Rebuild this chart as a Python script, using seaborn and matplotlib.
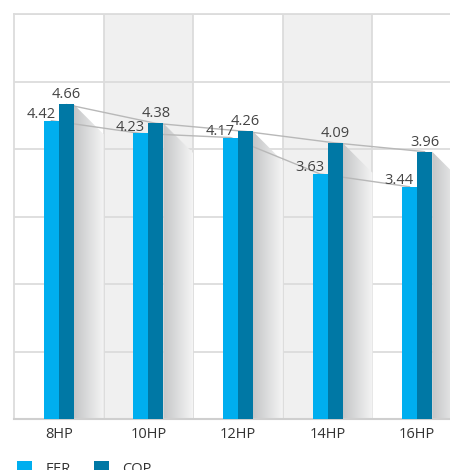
import numpy as np
import pandas as pd
import matplotlib
matplotlib.use("Agg")
import matplotlib.pyplot as plt
from matplotlib.patches import Polygon, Patch
import seaborn as sns

# Veriler
models = ["8HP", "10HP", "12HP", "14HP", "16HP"]
eer = [4.42, 4.23, 4.17, 3.63, 3.44]
cop = [4.66, 4.38, 4.26, 4.09, 3.96]
series = ["EER", "COP"]
colors = ["#00aeef", "#0078a5"]

df = pd.DataFrame({
    "model": models * 2,
    "value": eer + cop,
    "series": ["EER"] * len(models) + ["COP"] * len(models),
})

sns.set_theme(style="white")
plt.rcParams["font.family"] = ["Open Sans", "DejaVu Sans"]

fig = plt.figure(figsize=(4.5, 4.7), dpi=100)
ax = fig.add_axes([14 / 450, 51 / 470, 448 / 450, 405 / 470])

total_w = 0.335
bw = total_w / 2
grid_c = "#dcdcdc"

# arka plan bantlari
for i in [1, 3]:
    ax.axvspan(i - 0.5, i + 0.5, color="#f0f0f0", zorder=0, lw=0)

# dikey ve yatay cizgiler
for b in [0.5, 1.5, 2.5, 3.5]:
    ax.axvline(b, color=grid_c, lw=1.3, zorder=0.5)
for y in range(0, 7):
    ax.axhline(y, color=grid_c, lw=1.3, zorder=0.5)

# golgeler
grad = np.linspace(0, 1, 256)
c0 = np.array([0.77, 0.775, 0.78])
c1 = np.array([0.96, 0.96, 0.96])
img = (c0[None, :] * (1 - grad[:, None]) + c1[None, :] * grad[:, None])[None, :, :]
dy = (0.5 - bw) * 89.6 / 67.5
for i, top in enumerate(cop):
    x0, x1 = i + bw, i + 0.5
    poly = Polygon([(x0, top), (x1, top - dy), (x1, 0), (x0, 0)],
                   closed=True, facecolor="none", edgecolor="none")
    ax.add_patch(poly)
    im = ax.imshow(img, extent=(x0, x1, 0, top), aspect="auto",
                   origin="lower", zorder=1, interpolation="bilinear")
    im.set_clip_path(poly)

# gri baglanti cizgileri
xs = np.arange(len(models))
ax.plot(xs - bw / 2, eer, color="#b8b8b8", lw=1, zorder=2)
ax.plot(xs + bw / 2, cop, color="#b8b8b8", lw=1, zorder=2)

sns.barplot(data=df, x="model", y="value", hue="series", order=models,
            hue_order=series, palette=colors, saturation=1, width=total_w,
            gap=0, legend=False, ax=ax, zorder=3, linewidth=0)

# deger etiketleri
for i in range(len(models)):
    ax.annotate(f"{eer[i]:.2f}", (i, eer[i]), xytext=(-2.5, -0.8),
                textcoords="offset points", ha="right", va="bottom",
                fontsize=10.5, color="#444444", zorder=4)
    ax.annotate(f"{cop[i]:.2f}", (i + bw / 2, cop[i]), xytext=(0, 1.5),
                textcoords="offset points", ha="center", va="bottom",
                fontsize=10.5, color="#444444", zorder=4)

ax.set_xlim(-0.5, 4.5)
ax.set_ylim(0, 6)
ax.set_yticks([])
ax.set_xlabel("")
ax.set_ylabel("")
ax.tick_params(axis="x", length=0, pad=6, labelsize=10.5, labelcolor="#333333")
for s in ["left", "top", "right"]:
    ax.spines[s].set_color(grid_c)
    ax.spines[s].set_linewidth(1.3)
ax.spines["bottom"].set_color("#cfcfcf")
ax.spines["bottom"].set_linewidth(1.5)

handles = [Patch(facecolor=c, edgecolor="none") for c in colors]
fig.legend(handles, series, loc="upper left", bbox_to_anchor=(17 / 450, 1 - 461 / 470),
           ncol=2, frameon=False, fontsize=10.5, handlelength=1.03, handleheight=1.03,
           handletextpad=0.9, columnspacing=1.6, borderpad=0, borderaxespad=0,
           labelcolor="#333333")

fig.savefig("out.png", dpi=100)
